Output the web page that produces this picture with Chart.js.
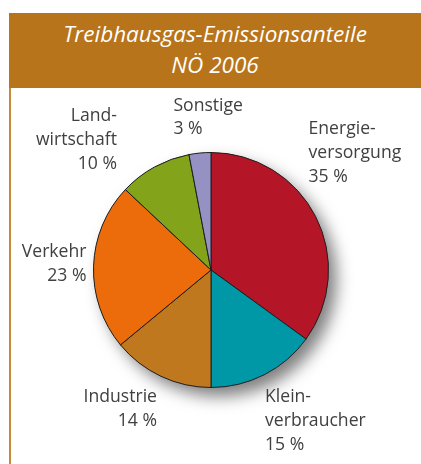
<!DOCTYPE html>
<html lang="de">
<head>
  <meta charset="UTF-8">
  <title>Treibhausgas-Emissionsanteile NÖ 2006</title>
  <style>
    body {
      margin: 0;
      width: 421px;
      height: 464px;
      background: #ffffff;
      overflow: hidden;
      position: relative;
      font-family: 'Open Sans', sans-serif;
    }
    .band {
      position: absolute;
      left: 9px;
      top: 13px;
      width: 412px;
      height: 75px;
      background: #b8741a;
      color: #ffffff;
      font-style: italic;
      font-size: 22.5px;
      line-height: 30.5px;
      text-align: center;
      box-sizing: border-box;
      padding-top: 6px;
    }
    .rule {
      position: absolute;
      left: 9px;
      top: 88px;
      width: 2px;
      height: 376px;
      background: #c58a3e;
    }
    #wrap {
      position: absolute;
      left: 0;
      top: 0;
      width: 421px;
      height: 464px;
    }
  </style>
</head>
<body>
  <div class="band">Treibhausgas-Emissionsanteile<br>NÖ 2006</div>
  <div class="rule"></div>
  <div id="wrap"><canvas id="pie"></canvas></div>

  <script src="https://cdn.jsdelivr.net/npm/chart.js"></script>
  <script>
    // Sektoren, im Uhrzeigersinn ab 12 Uhr
    const sectors = [["Energie-", "versorgung"], ["Klein-", "verbraucher"], ["Industrie"], ["Verkehr"], ["Land-", "wirtschaft"], ["Sonstige"]];
    const shares = [35, 15, 14, 23, 10, 3]; // Prozent
    const sliceColors = ['#b41628', '#0097a7', '#c0781e', '#ec6c0c', '#83a31a', '#9591c3'];

    // label anchor relative to pie centre, in units of the radius, plus alignment
    const labelOffsets = [[0.83, -1.2], [0.46, 1.08], [-0.46, 1.08], [-1.06, -0.15], [-0.8, -1.31], [-0.32, -1.4]];
    const labelAlign = ['left', 'left', 'right', 'right', 'right', 'left'];

    // soft grey shadow under the whole pie
    const pieShadow = {
      id: 'pieShadow',
      beforeDatasetsDraw(chart) {
        const arc = chart.getDatasetMeta(0).data[0];
        if (!arc) return;
        const ctx = chart.ctx;
        ctx.save();
        ctx.shadowColor = 'rgba(0,0,0,0.5)';
        ctx.shadowBlur = 16;
        ctx.shadowOffsetX = 8;
        ctx.shadowOffsetY = 9;
        ctx.fillStyle = '#888';
        ctx.beginPath();
        ctx.arc(arc.x, arc.y, arc.outerRadius, 0, Math.PI * 2);
        ctx.fill();
        ctx.restore();
      }
    };

    const sectorLabels = {
      id: 'sectorLabels',
      afterDatasetsDraw(chart) {
        const meta = chart.getDatasetMeta(0);
        const ctx = chart.ctx;
        ctx.save();
        ctx.font = '17.6px "Open Sans"';
        ctx.fillStyle = '#404040';
        ctx.textBaseline = 'middle';
        meta.data.forEach((arc, i) => {
          const r = arc.outerRadius;
          const x = arc.x + labelOffsets[i][0] * r;
          let y = arc.y + labelOffsets[i][1] * r;
          ctx.textAlign = labelAlign[i];
          const lines = sectors[i].concat([shares[i] + ' %']);
          lines.forEach(t => {
            ctx.fillText(t, x, y);
            y += 23.8;
          });
        });
        ctx.restore();
      }
    };

    new Chart(document.getElementById('pie'), {
      type: 'pie',
      data: {
        labels: sectors.map(s => s.join('')),
        datasets: [{
          data: shares,
          backgroundColor: sliceColors,
          borderColor: '#1e1e1e',
          borderWidth: 1
        }]
      },
      options: {
        responsive: true,
        maintainAspectRatio: false,
        animation: false,
        layout: {
          padding: { left: 93, right: 92, top: 152, bottom: 76 }
        },
        plugins: {
          legend: { display: false },
          tooltip: { enabled: false }
        }
      },
      plugins: [pieShadow, sectorLabels]
    });
  </script>
</body>
</html>
